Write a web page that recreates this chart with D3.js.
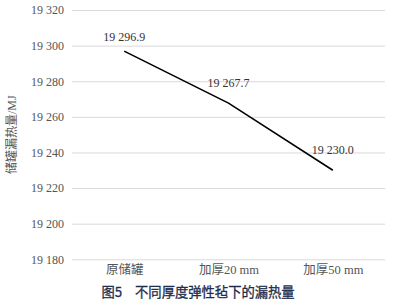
<!DOCTYPE html>
<html>
<head>
<meta charset="utf-8">
<script src="https://cdn.jsdelivr.net/npm/d3@7"></script>
<style>
  body { margin: 0; background: #fff; }
  svg { display: block; }
</style>
</head>
<body>
<div id="chart"></div>
<script>
// data
const categories = ["原储罐", "加厚20 mm", "加厚50 mm"];
const heatLoss = [19296.9, 19267.7, 19230.0];
const yTicks = [19180, 19200, 19220, 19240, 19260, 19280, 19300, 19320];

const width = 396, height = 306;
const margin = { top: 10, right: 11, bottom: 49, left: 72 };
const fmt = (v) => d3.format(",.0f")(v).replace(/,/g, " ");
const fmtLabel = (v) => d3.format(",.1f")(v).replace(/,/g, " ");
const serifFont = '"Liberation Serif", "Times New Roman", "Noto Sans CJK SC", serif';

const svg = d3.select("#chart").append("svg")
  .attr("width", width)
  .attr("height", height);

const x = d3.scalePoint()
  .domain(categories)
  .range([margin.left, width - margin.right])
  .padding(0.5);

const y = d3.scaleLinear()
  .domain([19180, 19320])
  .range([height - margin.bottom + 2.3, margin.top]);

// gridlines + tick labels
const yAxis = d3.axisLeft(y)
  .tickValues(yTicks)
  .tickFormat(fmt)
  .tickSize(-(width - margin.left - margin.right))
  .tickPadding(8);

svg.append("g")
  .attr("transform", `translate(${margin.left},0)`)
  .call(yAxis)
  .attr("font-family", null)
  .attr("font-size", null)
  .call(g => g.select(".domain").remove())
  .call(g => g.selectAll(".tick line").attr("stroke", "#d9d9d9").attr("stroke-width", 1))
  .call(g => g.selectAll(".tick text")
    .style("font-family", serifFont)
    .style("font-size", "12px")
    .attr("fill", "#555"));

// category labels
const xAxis = d3.axisBottom(x).tickSize(0).tickPadding(6);
svg.append("g")
  .attr("transform", `translate(0,${y(19180)})`)
  .call(xAxis)
  .attr("font-family", null)
  .attr("font-size", null)
  .call(g => g.select(".domain").remove())
  .call(g => g.selectAll(".tick text")
    .style("font-family", serifFont)
    .style("font-size", "12.5px")
    .attr("fill", "#555"));

// line
const line = d3.line()
  .x((d, i) => x(categories[i]))
  .y(d => y(d));

svg.append("path")
  .datum(heatLoss)
  .attr("fill", "none")
  .attr("stroke", "#000")
  .attr("stroke-width", 1.6)
  .attr("d", line);

// data labels
const labelDy = [-10, -16, -16];
svg.append("g")
  .selectAll("text")
  .data(heatLoss)
  .join("text")
  .attr("x", (d, i) => x(categories[i]))
  .attr("y", (d, i) => y(d) + labelDy[i])
  .attr("text-anchor", "middle")
  .style("font-family", serifFont)
  .style("font-size", "12px")
  .attr("fill", "#333")
  .text(d => fmtLabel(d));

// y axis title
svg.append("text")
  .attr("transform", `translate(16,${(margin.top + y(19180)) / 2}) rotate(-90)`)
  .attr("text-anchor", "middle")
  .style("font-family", serifFont)
  .style("font-size", "12px")
  .attr("fill", "#555")
  .text("储罐漏热量/MJ");

// caption
const cap = svg.append("text")
  .attr("x", width / 2)
  .attr("y", 297)
  .attr("text-anchor", "middle")
  .style("font-family", '"Noto Sans CJK SC", sans-serif')
  .style("font-size", "13.3px")
  .attr("fill", "#1f2d4d")
  .attr("stroke", "#1f2d4d")
  .attr("stroke-width", 0.3);
cap.append("tspan").text("图5");
cap.append("tspan").attr("dx", 13).text("不同厚度弹性毡下的漏热量");
</script>
</body>
</html>
